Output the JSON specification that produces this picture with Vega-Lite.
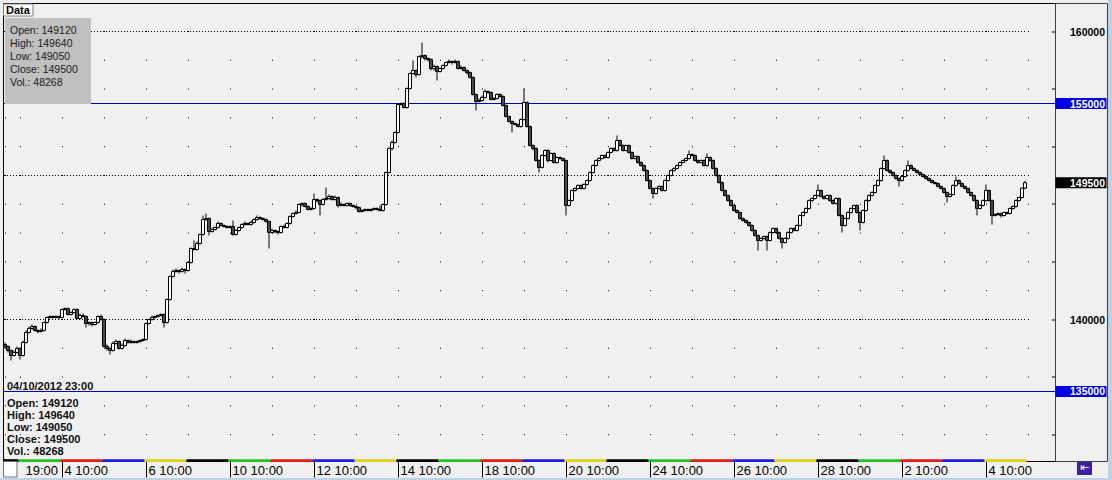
{
"$schema": "https://vega.github.io/schema/vega-lite/v6.json",
"width": 1052, "height": 458,
"autosize": {"type": "none"},
"padding": {"left": 4, "top": 3, "right": 56, "bottom": 19},
"background": "#F0F0F0",
"config": {"view": {"stroke": null}, "font": "Liberation Sans", "scale": {"continuousPadding": 0}},
"datasets": {
"levels": [{"level":160000},{"level":150000},{"level":140000}],
"marks": [{"level":155000,"kind":"line"},{"level":135000,"kind":"line"},{"level":149500,"kind":"price"}],
"days": [
{"day":"31/08","weekday":"Fri","from":-0.5,"to":4.5},
{"day":"03/09","weekday":"Mon","from":4.5,"to":18.5},
{"day":"04/09","weekday":"Tue","from":18.5,"to":32.5},
{"day":"05/09","weekday":"Wed","from":32.5,"to":46.5},
{"day":"06/09","weekday":"Thu","from":46.5,"to":60.5},
{"day":"07/09","weekday":"Fri","from":60.5,"to":74.5},
{"day":"10/09","weekday":"Mon","from":74.5,"to":88.5},
{"day":"11/09","weekday":"Tue","from":88.5,"to":102.5},
{"day":"12/09","weekday":"Wed","from":102.5,"to":116.5},
{"day":"13/09","weekday":"Thu","from":116.5,"to":130.5},
{"day":"14/09","weekday":"Fri","from":130.5,"to":144.5},
{"day":"17/09","weekday":"Mon","from":144.5,"to":158.5},
{"day":"18/09","weekday":"Tue","from":158.5,"to":172.5},
{"day":"19/09","weekday":"Wed","from":172.5,"to":186.5},
{"day":"20/09","weekday":"Thu","from":186.5,"to":200.5},
{"day":"21/09","weekday":"Fri","from":200.5,"to":214.5},
{"day":"24/09","weekday":"Mon","from":214.5,"to":228.5},
{"day":"25/09","weekday":"Tue","from":228.5,"to":242.5},
{"day":"26/09","weekday":"Wed","from":242.5,"to":256.5},
{"day":"27/09","weekday":"Thu","from":256.5,"to":270.5},
{"day":"28/09","weekday":"Fri","from":270.5,"to":284.5},
{"day":"01/10","weekday":"Mon","from":284.5,"to":298.5},
{"day":"02/10","weekday":"Tue","from":298.5,"to":312.5},
{"day":"03/10","weekday":"Wed","from":312.5,"to":326.5},
{"day":"04/10","weekday":"Thu","from":326.5,"to":340.5}
],
"bars": [
{"t":0,"open":138260,"high":138400,"low":137990,"close":138130},
{"t":1,"open":138130,"high":138200,"low":137710,"close":137850},
{"t":2,"open":137850,"high":137920,"low":137150,"close":137500},
{"t":3,"open":137500,"high":137850,"low":137430,"close":137710},
{"t":4,"open":137710,"high":138130,"low":137640,"close":137990},
{"t":5,"open":137990,"high":138060,"low":137220,"close":137500},
{"t":6,"open":137500,"high":138540,"low":137430,"close":138400},
{"t":7,"open":138400,"high":139240,"low":138330,"close":139100},
{"t":8,"open":139100,"high":139510,"low":139030,"close":139380},
{"t":9,"open":139380,"high":139650,"low":139310,"close":139510},
{"t":10,"open":139510,"high":139580,"low":139170,"close":139240},
{"t":11,"open":139240,"high":139310,"low":139030,"close":139170},
{"t":12,"open":139170,"high":139380,"low":139100,"close":139240},
{"t":13,"open":139240,"high":139860,"low":139170,"close":139790},
{"t":14,"open":139790,"high":140210,"low":139720,"close":140140},
{"t":15,"open":140140,"high":140280,"low":140070,"close":140210},
{"t":16,"open":140210,"high":140280,"low":140070,"close":140140},
{"t":17,"open":140140,"high":140280,"low":140070,"close":140210},
{"t":18,"open":140210,"high":140280,"low":140000,"close":140140},
{"t":19,"open":140140,"high":140760,"low":140070,"close":140690},
{"t":20,"open":140690,"high":140830,"low":140630,"close":140760},
{"t":21,"open":140760,"high":140830,"low":140280,"close":140350},
{"t":22,"open":140350,"high":140560,"low":140280,"close":140490},
{"t":23,"open":140490,"high":140760,"low":140420,"close":140690},
{"t":24,"open":140690,"high":140760,"low":140000,"close":140070},
{"t":25,"open":140070,"high":140420,"low":140000,"close":140280},
{"t":26,"open":140280,"high":140420,"low":140140,"close":140210},
{"t":27,"open":140210,"high":140280,"low":139450,"close":139720},
{"t":28,"open":139720,"high":139860,"low":139580,"close":139790},
{"t":29,"open":139790,"high":139860,"low":139510,"close":139650},
{"t":30,"open":139650,"high":139860,"low":139580,"close":139790},
{"t":31,"open":139790,"high":140280,"low":139720,"close":140210},
{"t":32,"open":140210,"high":140350,"low":139930,"close":140000},
{"t":33,"open":140000,"high":140070,"low":138060,"close":138130},
{"t":34,"open":138130,"high":138260,"low":137850,"close":137990},
{"t":35,"open":137990,"high":138060,"low":137570,"close":137850},
{"t":36,"open":137850,"high":138470,"low":137780,"close":138330},
{"t":37,"open":138330,"high":138610,"low":138260,"close":138470},
{"t":38,"open":138470,"high":138540,"low":137920,"close":137990},
{"t":39,"open":137990,"high":138330,"low":137920,"close":138190},
{"t":40,"open":138190,"high":138680,"low":138130,"close":138540},
{"t":41,"open":138540,"high":138610,"low":138330,"close":138400},
{"t":42,"open":138400,"high":138610,"low":138330,"close":138470},
{"t":43,"open":138470,"high":138540,"low":138330,"close":138400},
{"t":44,"open":138400,"high":138540,"low":138330,"close":138470},
{"t":45,"open":138470,"high":138610,"low":138400,"close":138540},
{"t":46,"open":138540,"high":138680,"low":138470,"close":138610},
{"t":47,"open":138610,"high":139790,"low":138540,"close":139720},
{"t":48,"open":139720,"high":140070,"low":139650,"close":140000},
{"t":49,"open":140000,"high":140280,"low":139930,"close":140140},
{"t":50,"open":140140,"high":140280,"low":140070,"close":140210},
{"t":51,"open":140210,"high":140350,"low":140140,"close":140280},
{"t":52,"open":140280,"high":140420,"low":140210,"close":140350},
{"t":53,"open":140350,"high":140420,"low":139440,"close":139790},
{"t":54,"open":139790,"high":141460,"low":139720,"close":141390},
{"t":55,"open":141390,"high":143060,"low":141320,"close":142990},
{"t":56,"open":142990,"high":143470,"low":142920,"close":143330},
{"t":57,"open":143330,"high":143540,"low":143260,"close":143400},
{"t":58,"open":143400,"high":143470,"low":143190,"close":143330},
{"t":59,"open":143330,"high":143610,"low":143260,"close":143470},
{"t":60,"open":143470,"high":143540,"low":143190,"close":143400},
{"t":61,"open":143400,"high":144030,"low":143330,"close":143960},
{"t":62,"open":143960,"high":145000,"low":143890,"close":144930},
{"t":63,"open":144930,"high":145490,"low":144790,"close":144860},
{"t":64,"open":144860,"high":145420,"low":144790,"close":145280},
{"t":65,"open":145280,"high":145970,"low":145210,"close":145900},
{"t":66,"open":145900,"high":147220,"low":145830,"close":146940},
{"t":67,"open":146940,"high":147360,"low":146870,"close":147010},
{"t":68,"open":147010,"high":147080,"low":145830,"close":146110},
{"t":69,"open":146110,"high":146390,"low":146040,"close":146250},
{"t":70,"open":146250,"high":146460,"low":146180,"close":146390},
{"t":71,"open":146390,"high":146810,"low":146320,"close":146670},
{"t":72,"open":146670,"high":146740,"low":146460,"close":146530},
{"t":73,"open":146530,"high":146600,"low":146390,"close":146460},
{"t":74,"open":146460,"high":146530,"low":146320,"close":146390},
{"t":75,"open":146390,"high":146530,"low":146320,"close":146460},
{"t":76,"open":146460,"high":146880,"low":145830,"close":145900},
{"t":77,"open":145900,"high":146250,"low":145830,"close":146180},
{"t":78,"open":146180,"high":146460,"low":146110,"close":146390},
{"t":79,"open":146390,"high":146670,"low":146320,"close":146600},
{"t":80,"open":146600,"high":146810,"low":146530,"close":146670},
{"t":81,"open":146670,"high":146740,"low":146530,"close":146600},
{"t":82,"open":146600,"high":146880,"low":146530,"close":146740},
{"t":83,"open":146740,"high":147010,"low":146670,"close":146940},
{"t":84,"open":146940,"high":147220,"low":146880,"close":147080},
{"t":85,"open":147080,"high":147150,"low":146940,"close":147010},
{"t":86,"open":147010,"high":147080,"low":146880,"close":146940},
{"t":87,"open":146940,"high":147010,"low":146740,"close":146810},
{"t":88,"open":146810,"high":146880,"low":144930,"close":146040},
{"t":89,"open":146040,"high":146320,"low":145970,"close":146180},
{"t":90,"open":146180,"high":146250,"low":145970,"close":146110},
{"t":91,"open":146110,"high":146180,"low":145900,"close":146040},
{"t":92,"open":146040,"high":146530,"low":145970,"close":146460},
{"t":93,"open":146460,"high":146600,"low":146320,"close":146390},
{"t":94,"open":146390,"high":146740,"low":146320,"close":146670},
{"t":95,"open":146670,"high":147220,"low":146600,"close":147150},
{"t":96,"open":147150,"high":147430,"low":147080,"close":147360},
{"t":97,"open":147360,"high":147570,"low":147290,"close":147430},
{"t":98,"open":147430,"high":148060,"low":147360,"close":147990},
{"t":99,"open":147990,"high":148130,"low":147850,"close":148060},
{"t":100,"open":148060,"high":148130,"low":147780,"close":147850},
{"t":101,"open":147850,"high":147920,"low":147570,"close":147640},
{"t":102,"open":147640,"high":147780,"low":147570,"close":147710},
{"t":103,"open":147710,"high":148750,"low":147640,"close":148330},
{"t":104,"open":148330,"high":148400,"low":148130,"close":148260},
{"t":105,"open":148260,"high":148330,"low":147220,"close":147990},
{"t":106,"open":147990,"high":148400,"low":147920,"close":148330},
{"t":107,"open":148330,"high":149170,"low":148260,"close":148400},
{"t":108,"open":148400,"high":148680,"low":148330,"close":148540},
{"t":109,"open":148540,"high":148610,"low":148260,"close":148330},
{"t":110,"open":148330,"high":148610,"low":148260,"close":148470},
{"t":111,"open":148470,"high":148540,"low":147780,"close":147920},
{"t":112,"open":147920,"high":148130,"low":147850,"close":147990},
{"t":113,"open":147990,"high":148060,"low":147850,"close":147920},
{"t":114,"open":147920,"high":148130,"low":147850,"close":148060},
{"t":115,"open":148060,"high":148130,"low":147850,"close":147920},
{"t":116,"open":147920,"high":147990,"low":147780,"close":147850},
{"t":117,"open":147850,"high":147920,"low":147640,"close":147780},
{"t":118,"open":147780,"high":147850,"low":147430,"close":147500},
{"t":119,"open":147500,"high":147640,"low":147430,"close":147570},
{"t":120,"open":147570,"high":147710,"low":147500,"close":147640},
{"t":121,"open":147640,"high":147710,"low":147500,"close":147570},
{"t":122,"open":147570,"high":147710,"low":147500,"close":147640},
{"t":123,"open":147640,"high":147780,"low":147570,"close":147710},
{"t":124,"open":147710,"high":147780,"low":147570,"close":147640},
{"t":125,"open":147640,"high":147920,"low":147500,"close":147570},
{"t":126,"open":147570,"high":148060,"low":147500,"close":147990},
{"t":127,"open":147990,"high":150280,"low":147920,"close":150210},
{"t":128,"open":150210,"high":151950,"low":150140,"close":151880},
{"t":129,"open":151880,"high":152430,"low":151740,"close":152290},
{"t":130,"open":152290,"high":153060,"low":152220,"close":152990},
{"t":131,"open":152990,"high":155000,"low":152920,"close":154930},
{"t":132,"open":154930,"high":155070,"low":154860,"close":155000},
{"t":133,"open":155000,"high":155070,"low":154650,"close":154720},
{"t":134,"open":154720,"high":156110,"low":154650,"close":156040},
{"t":135,"open":156040,"high":157150,"low":155970,"close":157080},
{"t":136,"open":157080,"high":157990,"low":157010,"close":157290},
{"t":137,"open":157290,"high":157360,"low":156810,"close":157010},
{"t":138,"open":157010,"high":158330,"low":156940,"close":158260},
{"t":139,"open":158260,"high":159240,"low":158130,"close":158330},
{"t":140,"open":158330,"high":158400,"low":157990,"close":158130},
{"t":141,"open":158130,"high":158200,"low":157920,"close":158060},
{"t":142,"open":158060,"high":158130,"low":157290,"close":157430},
{"t":143,"open":157430,"high":157710,"low":157290,"close":157570},
{"t":144,"open":157570,"high":157640,"low":156600,"close":157220},
{"t":145,"open":157220,"high":157500,"low":157150,"close":157430},
{"t":146,"open":157430,"high":157710,"low":157360,"close":157640},
{"t":147,"open":157640,"high":157920,"low":157570,"close":157850},
{"t":148,"open":157850,"high":158060,"low":157780,"close":157920},
{"t":149,"open":157920,"high":157990,"low":157710,"close":157850},
{"t":150,"open":157850,"high":158060,"low":157780,"close":157920},
{"t":151,"open":157920,"high":157990,"low":157360,"close":157430},
{"t":152,"open":157430,"high":157640,"low":157360,"close":157500},
{"t":153,"open":157500,"high":157570,"low":157220,"close":157290},
{"t":154,"open":157290,"high":157360,"low":157010,"close":157150},
{"t":155,"open":157150,"high":157220,"low":156740,"close":156810},
{"t":156,"open":156810,"high":156880,"low":155560,"close":155630},
{"t":157,"open":155630,"high":155700,"low":154510,"close":155140},
{"t":158,"open":155140,"high":155350,"low":155070,"close":155210},
{"t":159,"open":155210,"high":155560,"low":155140,"close":155420},
{"t":160,"open":155420,"high":155970,"low":155350,"close":155830},
{"t":161,"open":155830,"high":155900,"low":155690,"close":155760},
{"t":162,"open":155760,"high":155830,"low":155210,"close":155280},
{"t":163,"open":155280,"high":155420,"low":155210,"close":155350},
{"t":164,"open":155350,"high":155700,"low":155280,"close":155630},
{"t":165,"open":155630,"high":155700,"low":155420,"close":155490},
{"t":166,"open":155490,"high":155560,"low":154790,"close":154860},
{"t":167,"open":154860,"high":154930,"low":154030,"close":154100},
{"t":168,"open":154100,"high":154170,"low":153680,"close":153750},
{"t":169,"open":153750,"high":153820,"low":152990,"close":153610},
{"t":170,"open":153610,"high":153680,"low":153470,"close":153540},
{"t":171,"open":153540,"high":153610,"low":153330,"close":153400},
{"t":172,"open":153400,"high":153960,"low":153330,"close":153890},
{"t":173,"open":153890,"high":156040,"low":153820,"close":155070},
{"t":174,"open":155070,"high":155140,"low":153330,"close":153400},
{"t":175,"open":153400,"high":153470,"low":152010,"close":152080},
{"t":176,"open":152080,"high":152150,"low":151740,"close":151880},
{"t":177,"open":151880,"high":151950,"low":150970,"close":151040},
{"t":178,"open":151040,"high":151110,"low":150210,"close":150560},
{"t":179,"open":150560,"high":151460,"low":150490,"close":151390},
{"t":180,"open":151390,"high":151810,"low":151320,"close":151740},
{"t":181,"open":151740,"high":151810,"low":150900,"close":151040},
{"t":182,"open":151040,"high":151600,"low":150970,"close":151530},
{"t":183,"open":151530,"high":151600,"low":150830,"close":150900},
{"t":184,"open":150900,"high":151320,"low":150830,"close":151250},
{"t":185,"open":151250,"high":151320,"low":151110,"close":151180},
{"t":186,"open":151180,"high":151250,"low":150970,"close":151040},
{"t":187,"open":151040,"high":151110,"low":147220,"close":147920},
{"t":188,"open":147920,"high":148330,"low":147850,"close":148260},
{"t":189,"open":148260,"high":149030,"low":148190,"close":148960},
{"t":190,"open":148960,"high":149170,"low":148890,"close":149100},
{"t":191,"open":149100,"high":149380,"low":149030,"close":149310},
{"t":192,"open":149310,"high":149380,"low":149030,"close":149100},
{"t":193,"open":149100,"high":149440,"low":149030,"close":149380},
{"t":194,"open":149380,"high":149720,"low":149310,"close":149650},
{"t":195,"open":149650,"high":150280,"low":149580,"close":150210},
{"t":196,"open":150210,"high":150760,"low":150140,"close":150690},
{"t":197,"open":150690,"high":151110,"low":150620,"close":151040},
{"t":198,"open":151040,"high":151250,"low":150970,"close":151180},
{"t":199,"open":151180,"high":151460,"low":151110,"close":151390},
{"t":200,"open":151390,"high":151460,"low":151180,"close":151250},
{"t":201,"open":151250,"high":151670,"low":151180,"close":151600},
{"t":202,"open":151600,"high":151950,"low":151530,"close":151880},
{"t":203,"open":151880,"high":151950,"low":151670,"close":151740},
{"t":204,"open":151740,"high":152780,"low":151670,"close":152430},
{"t":205,"open":152430,"high":152500,"low":152010,"close":152080},
{"t":206,"open":152080,"high":152150,"low":151670,"close":151740},
{"t":207,"open":151740,"high":152150,"low":151670,"close":152080},
{"t":208,"open":152080,"high":152150,"low":151530,"close":151600},
{"t":209,"open":151600,"high":151670,"low":151110,"close":151180},
{"t":210,"open":151180,"high":151390,"low":151110,"close":151320},
{"t":211,"open":151320,"high":151390,"low":150830,"close":150900},
{"t":212,"open":150900,"high":150970,"low":150620,"close":150690},
{"t":213,"open":150690,"high":150760,"low":150280,"close":150350},
{"t":214,"open":150350,"high":150420,"low":149580,"close":149650},
{"t":215,"open":149650,"high":149720,"low":149030,"close":149100},
{"t":216,"open":149100,"high":149170,"low":148400,"close":148750},
{"t":217,"open":148750,"high":149170,"low":148680,"close":149100},
{"t":218,"open":149100,"high":149310,"low":149030,"close":149240},
{"t":219,"open":149240,"high":149310,"low":148890,"close":148960},
{"t":220,"open":148960,"high":149720,"low":148890,"close":149650},
{"t":221,"open":149650,"high":150070,"low":149580,"close":150000},
{"t":222,"open":150000,"high":150420,"low":149930,"close":150350},
{"t":223,"open":150350,"high":150560,"low":150280,"close":150490},
{"t":224,"open":150490,"high":150760,"low":150420,"close":150690},
{"t":225,"open":150690,"high":150970,"low":150620,"close":150900},
{"t":226,"open":150900,"high":151110,"low":150830,"close":151040},
{"t":227,"open":151040,"high":151250,"low":150970,"close":151180},
{"t":228,"open":151180,"high":151740,"low":151110,"close":151460},
{"t":229,"open":151460,"high":151530,"low":151320,"close":151390},
{"t":230,"open":151390,"high":151460,"low":150970,"close":151040},
{"t":231,"open":151040,"high":151110,"low":150830,"close":150900},
{"t":232,"open":150900,"high":151110,"low":150830,"close":151040},
{"t":233,"open":151040,"high":151110,"low":150620,"close":150690},
{"t":234,"open":150690,"high":151530,"low":150620,"close":151250},
{"t":235,"open":151250,"high":151320,"low":150970,"close":151040},
{"t":236,"open":151040,"high":151110,"low":150420,"close":150490},
{"t":237,"open":150490,"high":150560,"low":149930,"close":150000},
{"t":238,"open":150000,"high":150070,"low":149440,"close":149510},
{"t":239,"open":149510,"high":149580,"low":148890,"close":148960},
{"t":240,"open":148960,"high":149030,"low":148540,"close":148610},
{"t":241,"open":148610,"high":148680,"low":148190,"close":148260},
{"t":242,"open":148260,"high":148330,"low":147850,"close":147920},
{"t":243,"open":147920,"high":147990,"low":147500,"close":147570},
{"t":244,"open":147570,"high":147640,"low":147360,"close":147430},
{"t":245,"open":147430,"high":147500,"low":146940,"close":147010},
{"t":246,"open":147010,"high":147080,"low":146810,"close":146880},
{"t":247,"open":146880,"high":146950,"low":146670,"close":146740},
{"t":248,"open":146740,"high":146810,"low":146460,"close":146530},
{"t":249,"open":146530,"high":146600,"low":146110,"close":146180},
{"t":250,"open":146180,"high":146250,"low":145760,"close":145830},
{"t":251,"open":145830,"high":145900,"low":144790,"close":145490},
{"t":252,"open":145490,"high":145700,"low":145420,"close":145630},
{"t":253,"open":145630,"high":145830,"low":145560,"close":145760},
{"t":254,"open":145760,"high":145830,"low":144790,"close":145490},
{"t":255,"open":145490,"high":146110,"low":145420,"close":146040},
{"t":256,"open":146040,"high":146390,"low":145970,"close":146320},
{"t":257,"open":146320,"high":146390,"low":145970,"close":146040},
{"t":258,"open":146040,"high":146110,"low":145560,"close":145630},
{"t":259,"open":145630,"high":145700,"low":144930,"close":145350},
{"t":260,"open":145350,"high":145700,"low":145280,"close":145630},
{"t":261,"open":145630,"high":146110,"low":145560,"close":146040},
{"t":262,"open":146040,"high":146390,"low":145970,"close":146320},
{"t":263,"open":146320,"high":146390,"low":146110,"close":146180},
{"t":264,"open":146180,"high":146600,"low":146110,"close":146530},
{"t":265,"open":146530,"high":147290,"low":146460,"close":147220},
{"t":266,"open":147220,"high":147500,"low":147150,"close":147430},
{"t":267,"open":147430,"high":147780,"low":147360,"close":147710},
{"t":268,"open":147710,"high":148330,"low":147640,"close":148260},
{"t":269,"open":148260,"high":148470,"low":148190,"close":148400},
{"t":270,"open":148400,"high":148680,"low":148330,"close":148610},
{"t":271,"open":148610,"high":149380,"low":148540,"close":148960},
{"t":272,"open":148960,"high":149030,"low":148470,"close":148540},
{"t":273,"open":148540,"high":148610,"low":148330,"close":148400},
{"t":274,"open":148400,"high":148680,"low":148330,"close":148610},
{"t":275,"open":148610,"high":148680,"low":148190,"close":148260},
{"t":276,"open":148260,"high":148330,"low":147990,"close":148060},
{"t":277,"open":148060,"high":148470,"low":147990,"close":148400},
{"t":278,"open":148400,"high":148470,"low":147150,"close":147220},
{"t":279,"open":147220,"high":147290,"low":146040,"close":146530},
{"t":280,"open":146530,"high":147080,"low":146460,"close":147010},
{"t":281,"open":147010,"high":147500,"low":146940,"close":147430},
{"t":282,"open":147430,"high":147780,"low":147360,"close":147710},
{"t":283,"open":147710,"high":147990,"low":147640,"close":147920},
{"t":284,"open":147920,"high":147990,"low":147360,"close":147430},
{"t":285,"open":147430,"high":147500,"low":146180,"close":146740},
{"t":286,"open":146740,"high":147640,"low":146670,"close":147570},
{"t":287,"open":147570,"high":148330,"low":147500,"close":148260},
{"t":288,"open":148260,"high":148680,"low":148190,"close":148610},
{"t":289,"open":148610,"high":148890,"low":148540,"close":148820},
{"t":290,"open":148820,"high":149380,"low":148750,"close":149310},
{"t":291,"open":149310,"high":149720,"low":149240,"close":149650},
{"t":292,"open":149650,"high":150560,"low":149580,"close":150490},
{"t":293,"open":150490,"high":151390,"low":150420,"close":151040},
{"t":294,"open":151040,"high":151110,"low":150280,"close":150350},
{"t":295,"open":150350,"high":150420,"low":150140,"close":150210},
{"t":296,"open":150210,"high":150280,"low":149930,"close":150000},
{"t":297,"open":150000,"high":150070,"low":149720,"close":149790},
{"t":298,"open":149790,"high":149860,"low":149240,"close":149650},
{"t":299,"open":149650,"high":150000,"low":149580,"close":149930},
{"t":300,"open":149930,"high":150420,"low":149860,"close":150350},
{"t":301,"open":150350,"high":151040,"low":150280,"close":150690},
{"t":302,"open":150690,"high":150760,"low":150420,"close":150490},
{"t":303,"open":150490,"high":150560,"low":150280,"close":150350},
{"t":304,"open":150350,"high":150420,"low":150140,"close":150210},
{"t":305,"open":150210,"high":150280,"low":150000,"close":150070},
{"t":306,"open":150070,"high":150140,"low":149860,"close":149930},
{"t":307,"open":149930,"high":150000,"low":149720,"close":149790},
{"t":308,"open":149790,"high":149860,"low":149580,"close":149650},
{"t":309,"open":149650,"high":149720,"low":149440,"close":149510},
{"t":310,"open":149510,"high":149580,"low":149380,"close":149440},
{"t":311,"open":149440,"high":149510,"low":149170,"close":149240},
{"t":312,"open":149240,"high":149310,"low":149030,"close":149100},
{"t":313,"open":149100,"high":149170,"low":148750,"close":148820},
{"t":314,"open":148820,"high":148890,"low":148130,"close":148540},
{"t":315,"open":148540,"high":148750,"low":148470,"close":148680},
{"t":316,"open":148680,"high":149380,"low":148610,"close":149310},
{"t":317,"open":149310,"high":149930,"low":149240,"close":149650},
{"t":318,"open":149650,"high":149720,"low":149380,"close":149440},
{"t":319,"open":149440,"high":149510,"low":149170,"close":149240},
{"t":320,"open":149240,"high":149310,"low":149030,"close":149100},
{"t":321,"open":149100,"high":149170,"low":148750,"close":148820},
{"t":322,"open":148820,"high":148890,"low":148540,"close":148610},
{"t":323,"open":148610,"high":148680,"low":148190,"close":148260},
{"t":324,"open":148260,"high":148330,"low":147220,"close":147710},
{"t":325,"open":147710,"high":147990,"low":147640,"close":147920},
{"t":326,"open":147920,"high":148330,"low":147850,"close":148260},
{"t":327,"open":148260,"high":149380,"low":148190,"close":148960},
{"t":328,"open":148960,"high":149030,"low":148190,"close":148260},
{"t":329,"open":148260,"high":148330,"low":146600,"close":147220},
{"t":330,"open":147220,"high":147360,"low":147150,"close":147290},
{"t":331,"open":147290,"high":147430,"low":147220,"close":147360},
{"t":332,"open":147360,"high":147430,"low":147080,"close":147220},
{"t":333,"open":147220,"high":147500,"low":147150,"close":147430},
{"t":334,"open":147430,"high":147500,"low":147290,"close":147360},
{"t":335,"open":147360,"high":147780,"low":147290,"close":147710},
{"t":336,"open":147710,"high":147920,"low":147640,"close":147850},
{"t":337,"open":147850,"high":148330,"low":147780,"close":148260},
{"t":338,"open":148260,"high":148540,"low":148190,"close":148470},
{"t":339,"open":148470,"high":149170,"low":148400,"close":149120},
{"t":340,"open":149120,"high":149640,"low":149050,"close":149500}
]
},
"layer": [
{"data": {"name": "bars"},
 "mark": {"type": "bar", "width": 3, "opacity": 0},
 "encoding": {
  "x": {"field": "t", "type": "quantitative", "scale": {"domain": [-0.3333, 350.3333], "nice": false, "zero": false, "padding": 0},
   "axis": {"orient": "bottom", "title": null, "values": [0,5,19,33,47,61,75,89,103,117,131,145,159,173,187,201,215,229,243,257,271,285,299,313,327,341],
    "domain": false, "grid": true, "gridColor": "#000000", "gridDash": [1, 27.8], "gridDashOffset": 1.3, "gridWidth": 1,
    "ticks": true, "tickSize": 16, "tickColor": "#000000", "tickWidth": 1,
    "tickOpacity": {"condition": {"test": "datum.value > 0 && (datum.value - 19) % 28 == 0", "value": 1}, "value": 0},
    "labelExpr": "datum.value == 0 ? '19:00' : ((datum.value - 19) % 28 == 0 ? ['4 10:00','6 10:00','10 10:00','12 10:00','14 10:00','18 10:00','20 10:00','24 10:00','26 10:00','28 10:00','2 10:00','4 10:00'][(datum.value - 19) / 28] : '')",
    "labelAlign": "left", "labelBaseline": "middle", "labelPadding": -6.75,
    "labelOffset": {"condition": {"test": "datum.value == 0", "value": 20}, "value": 2},
    "labelFont": "Liberation Sans", "labelFontSize": 13, "labelColor": "#000000",
    "labelOverlap": false, "labelFlush": false, "labelBound": false}},
  "y": {"field": "open", "type": "quantitative", "scale": {"domain": [130173.6, 161979.2], "nice": false, "zero": false, "padding": 0},
   "axis": {"orient": "right", "title": null, "values": [132000,134000,136000,138000,140000,142000,144000,146000,148000,150000,152000,154000,156000,158000,160000],
    "domain": false, "grid": false, "ticks": true, "tickSize": -4, "tickColor": "#000000", "tickWidth": 1, "translate": 0,
    "labelExpr": "datum.value % 10000 == 0 ? '' + datum.value : ''",
    "labelAlign": "right", "labelBaseline": "middle", "labelPadding": 53, "labelOffset": 1,
    "labelFont": "Liberation Sans", "labelFontSize": 10.5, "labelFontWeight": "bold", "labelColor": "#000000",
    "labelOverlap": false, "labelFlush": false}},
  "y2": {"field": "close"}
 }},
{"data": {"values": [{}]},
 "mark": {"type": "rect", "filled": false, "stroke": "#000000", "strokeWidth": 1},
 "encoding": {"x": {"datum": -0.5}, "x2": {"datum": 350.1667}, "y": {"datum": 161944}, "y2": {"datum": 130139}}},
{"data": {"values": [{}]},
 "mark": {"type": "rect", "filled": false, "stroke": "#404040", "strokeWidth": 1},
 "encoding": {"x": {"datum": 350.1667}, "x2": {"datum": 367.5}, "y": {"datum": 161944}, "y2": {"datum": 130139}}},
{"data": {"name": "days"},
 "mark": {"type": "rect"},
 "encoding": {
  "x": {"field": "from", "type": "quantitative"},
  "x2": {"field": "to"},
  "y": {"datum": 130300, "type": "quantitative"},
  "y2": {"datum": 130104},
  "color": {"field": "weekday", "type": "nominal", "scale": {"domain": ["Mon","Tue","Wed","Thu","Fri"], "range": ["#22C322","#E01B1B","#1B1BE6","#E0D21B","#000000"]}, "legend": null}
 }},
{"data": {"name": "levels"},
 "mark": {"type": "rule", "strokeDash": [1, 2], "color": "#000000", "strokeWidth": 1},
 "encoding": {"y": {"field": "level", "type": "quantitative"}, "x": {"datum": -0.3333, "type": "quantitative"}, "x2": {"datum": 340.6667}}},
{"data": {"name": "marks"},
 "transform": [{"filter": "datum.kind == 'line'"}],
 "mark": {"type": "rule", "color": "#0000B0", "strokeWidth": 1},
 "encoding": {"y": {"field": "level", "type": "quantitative"}}},
{"data": {"name": "bars"},
 "mark": {"type": "bar", "width": 1, "color": "#000000"},
 "encoding": {"x": {"field": "t", "type": "quantitative"}, "y": {"field": "low", "type": "quantitative"}, "y2": {"field": "high"}}},
{"data": {"name": "bars"},
 "mark": {"type": "bar", "width": 3, "stroke": "#000000", "strokeWidth": 1},
 "encoding": {"x": {"field": "t", "type": "quantitative"}, "y": {"field": "open", "type": "quantitative"}, "y2": {"field": "close"},
  "fill": {"condition": {"test": "datum.close < datum.open", "value": "#4A4A4A"}, "value": "#FFFFFF"}}},
{"data": {"values": [{}]},
 "mark": {"type": "rect", "color": "#C0C0C0"},
 "encoding": {"x": {"datum": 0}, "x2": {"datum": 28.67}, "y": {"datum": 160937}, "y2": {"datum": 154965}}},
{"data": {"values": [{}]},
 "mark": {"type": "text", "text": ["Open: 149120","High: 149640","Low: 149050","Close: 149500","Vol.: 48268"], "lineHeight": 13, "align": "left", "baseline": "alphabetic", "font": "Liberation Sans", "fontSize": 10.5, "color": "#1A1A1A"},
 "encoding": {"x": {"datum": 1.667}, "y": {"datum": 159861}}},
{"data": {"values": [{}]},
 "mark": {"type": "rect", "fill": "#FFFFFF", "stroke": "#808080", "strokeWidth": 1},
 "encoding": {"x": {"datum": -0.5}, "x2": {"datum": 9.33}, "y": {"datum": 161910}, "y2": {"datum": 161076}}},
{"data": {"values": [{}]},
 "mark": {"type": "text", "text": "Data", "align": "left", "baseline": "alphabetic", "font": "Liberation Sans", "fontSize": 11, "fontWeight": "bold", "color": "#000000"},
 "encoding": {"x": {"datum": 0.333}, "y": {"datum": 161215}}},
{"data": {"values": [{}]},
 "mark": {"type": "text", "text": "04/10/2012 23:00", "align": "left", "baseline": "alphabetic", "font": "Liberation Sans", "fontSize": 11, "fontWeight": "bold", "color": "#101010"},
 "encoding": {"x": {"datum": 0.667}, "y": {"datum": 135104}}},
{"data": {"values": [{}]},
 "mark": {"type": "text", "text": ["Open: 149120","High: 149640","Low: 149050","Close: 149500","Vol.: 48268"], "lineHeight": 12, "align": "left", "baseline": "alphabetic", "font": "Liberation Sans", "fontSize": 11, "fontWeight": "bold", "color": "#101010"},
 "encoding": {"x": {"datum": 0.667}, "y": {"datum": 133903}}},
{"data": {"name": "marks"},
 "mark": {"type": "bar", "height": 11},
 "encoding": {"x": {"datum": 350.1667, "type": "quantitative"}, "x2": {"datum": 367.1667}, "y": {"field": "level", "type": "quantitative"},
  "fill": {"condition": {"test": "datum.kind == 'price'", "value": "#000000"}, "value": "#0000E6"}}},
{"data": {"name": "marks"},
 "mark": {"type": "text", "align": "right", "baseline": "middle", "dy": 1, "font": "Liberation Sans", "fontSize": 10.5, "fontWeight": "bold", "color": "#FFFFFF"},
 "encoding": {"x": {"datum": 366.67, "type": "quantitative"}, "y": {"field": "level", "type": "quantitative"}, "text": {"field": "level", "type": "quantitative", "format": "d"}}},
{"data": {"values": [{}]},
 "mark": {"type": "rect", "fill": "#FFFFFF", "stroke": "#707070", "strokeWidth": 1},
 "encoding": {"x": {"datum": -0.5}, "x2": {"datum": 4}, "y": {"datum": 130139}, "y2": {"datum": 129063}}},
{"data": {"values": [{}]},
 "mark": {"type": "rect", "fill": "#3C1E9E"},
 "encoding": {"x": {"datum": 357.33}, "x2": {"datum": 362.33}, "y": {"datum": 130104}, "y2": {"datum": 129201}}},
{"data": {"values": [{}]},
 "mark": {"type": "text", "text": "⇤", "align": "center", "baseline": "middle", "font": "DejaVu Sans", "fontSize": 11, "color": "#FFFFFF"},
 "encoding": {"x": {"datum": 359.83}, "y": {"datum": 129653}}},
{"data": {"values": [{}]},
 "mark": {"type": "rect", "fill": "#BCD2EA"},
 "encoding": {"x": {"datum": 367.67}, "x2": {"datum": 372}, "y": {"datum": 163000}, "y2": {"datum": 127000}}},
{"data": {"values": [{}]},
 "mark": {"type": "rect", "fill": "#BCD2EA"},
 "encoding": {"x": {"datum": -3}, "x2": {"datum": 372}, "y": {"datum": 128993}, "y2": {"datum": 127000}}}
]
}
